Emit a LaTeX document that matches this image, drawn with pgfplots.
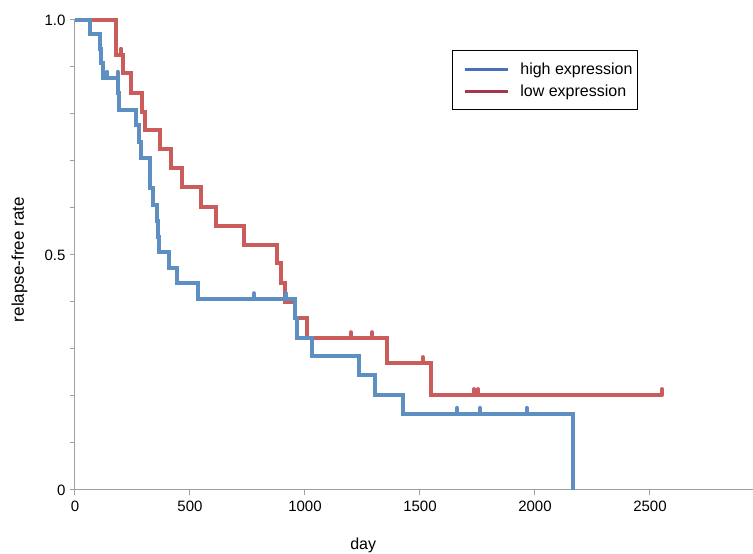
\documentclass[border=0pt]{standalone}
\usepackage{fontspec}
\setmainfont{Liberation Sans}
\usepackage{pgfplots}
\pgfplotsset{compat=1.18}
\definecolor{hiblue}{HTML}{5E8FC3}
\definecolor{lored}{HTML}{CB5C5C}
\definecolor{hibluelg}{HTML}{4A70B5}
\definecolor{loredlg}{HTML}{A8354E}
\definecolor{axgray}{HTML}{A0A0A0}
% censoring tick: short stroke upwards from the curve
\pgfdeclareplotmark{cens}{%
  \pgfpathmoveto{\pgfpointorigin}%
  \pgfpathlineto{\pgfpoint{0pt}{\pgfplotmarksize}}%
  \pgfusepathqstroke}

\begin{document}
\begin{tikzpicture}
\path[use as bounding box] (-75pt,-64pt) rectangle (678pt,490pt);
\begin{axis}[
  scale only axis,
  width=678pt, height=470pt,
  xmin=0, xmax=2948, ymin=0, ymax=1,
  axis x line=bottom, axis y line=left,
  axis line style={axgray, line width=1pt, -},
  every tick/.style={axgray, line width=1pt},
  major tick length=5pt,
  tick align=outside,
  xtick={0,500,1000,1500,2000,2500},
  ytick={0,0.1,0.2,0.3,0.4,0.5,0.6,0.7,0.8,0.9,1.0},
  yticklabels={0,,,,,0.5,,,,,1.0},
  scaled x ticks=false,
  /pgf/number format/1000 sep={},
  /pgf/number format/assume math mode=true,
  tick label style={font=\fontsize{15}{18}\selectfont, black},
  xticklabel style={yshift=-2pt},
  yticklabel style={xshift=-1pt},
  xlabel={day},
  ylabel={relapse-free rate},
  xlabel style={font=\fontsize{16}{19}\selectfont,
    at={(axis description cs:0.425,-0.117)}, anchor=center},
  ylabel style={font=\fontsize{17}{20}\selectfont,
    at={(axis description cs:-0.082,0.49)}, anchor=center},
  legend style={at={(0.556,0.936)}, anchor=north west, draw=black,
    line width=0.8pt, inner xsep=3pt, inner ysep=10pt, row sep=5pt,
    nodes={inner sep=2pt},
    font=\fontsize{16}{19}\selectfont},
  legend cell align=left,
  legend image code/.code={%
    \path[draw=none] (0pt,0pt) (63pt,0pt);
    \draw[#1, line width=3pt] (10pt,0pt) -- (53pt,0pt);},
  clip=false,
]
% low expression
\addplot[lored, line width=4pt, const plot, forget plot] coordinates {
  (0,1.0) (178,0.926) (209,0.887) (243,0.845) (291,0.804) (304,0.766)
  (370,0.725) (417,0.685) (465,0.645) (548,0.602) (613,0.562) (735,0.521)
  (878,0.483) (896,0.440) (913,0.400) (957,0.366) (1009,0.323)
  (1357,0.270) (1548,0.202) (2552,0.202)
};
\addplot[lored, line width=4pt, line cap=round, only marks, mark=cens,
  mark size=6pt, forget plot] coordinates {
  (200,0.926) (1200,0.323) (1291,0.323) (1513,0.270) (1735,0.202)
  (1752,0.202) (2552,0.202)
};
% high expression
\addplot[hiblue, line width=4pt, const plot, forget plot] coordinates {
  (0,1.0) (65,0.970) (109,0.939) (115,0.909) (122,0.877) (187,0.845)
  (193,0.809) (265,0.777) (278,0.740) (287,0.706) (326,0.643) (339,0.606)
  (355,0.572) (360,0.538) (365,0.506) (409,0.472) (443,0.440) (535,0.406)
  (957,0.366) (965,0.323) (1030,0.285) (1235,0.245) (1304,0.202)
  (1426,0.162) (2165,0)
};
\addplot[hiblue, line width=4pt, line cap=round, only marks, mark=cens,
  mark size=6pt, forget plot] coordinates {
  (139,0.877) (185,0.877) (778,0.406) (917,0.406) (1661,0.162)
  (1761,0.162) (1965,0.162)
};
\addlegendimage{hibluelg}
\addlegendentry{high expression}
\addlegendimage{loredlg}
\addlegendentry{low expression}
\end{axis}
\end{tikzpicture}
\end{document}
